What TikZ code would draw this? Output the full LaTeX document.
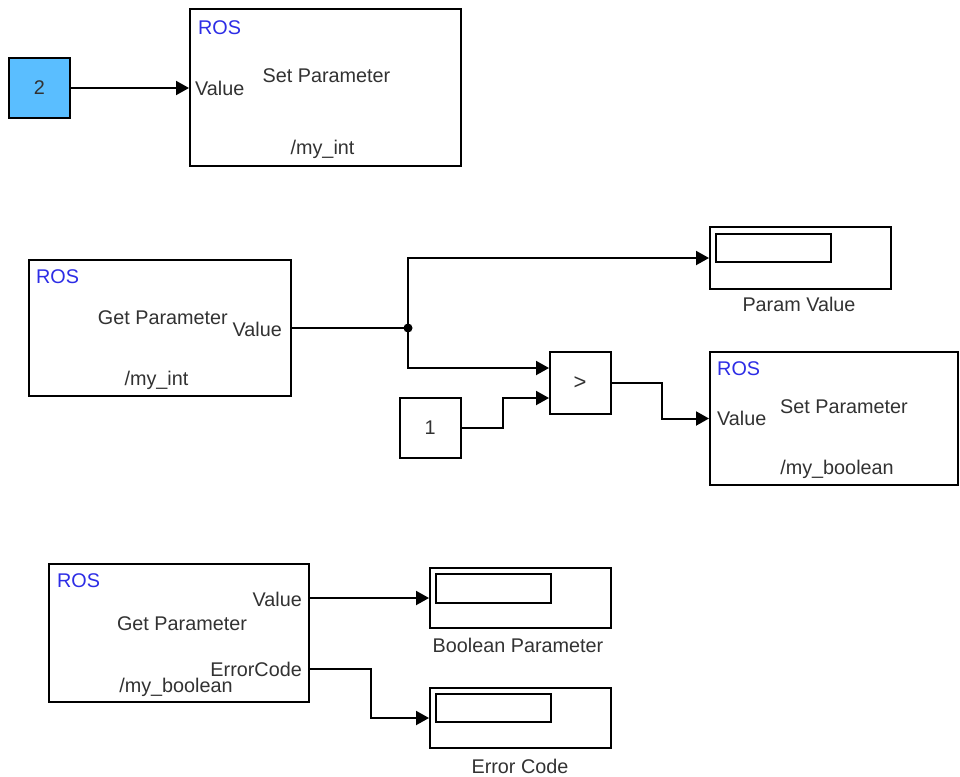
\documentclass[tikz,border=0pt]{standalone}
\usepackage{fontspec}
\setmainfont{Liberation Sans}
\usetikzlibrary{arrows.meta,calc}
\definecolor{txt}{RGB}{50,50,50}
\definecolor{rosblue}{RGB}{45,45,230}
\definecolor{constblue}{RGB}{90,190,255}
\begin{document}
\begin{tikzpicture}[x=1pt,y=-1pt,
  blk/.style={draw=black, line width=2pt, fill=white, inner sep=0pt, rectangle},
  lbl/.style={inner sep=0pt, text=txt, font=\fontsize{19.8}{23}\selectfont},
  rostag/.style={lbl, text=rosblue, anchor=base west},
  wire/.style={line width=2pt, draw=black},
  arr/.style={wire, -{Triangle[length=13pt,width=14pt]}},
]
\useasboundingbox (0,0) rectangle (960,776);

% ---------- blocks ----------
\node[blk, fill=constblue, minimum width=61, minimum height=60] (c2) at (39.5,88) {};
\node[blk, minimum width=271, minimum height=157] (sp1) at (325.5,87.5) {};

\node[blk, minimum width=262, minimum height=136] (gp1) at (160,328) {};
\node[blk, minimum width=181, minimum height=62] (pv) at (800.5,258) {};
\node[blk, minimum width=115, minimum height=28] (pvin) at (773.5,248) {};
\node[blk, minimum width=61, minimum height=62] (cmp) at (580.5,383) {};
\node[blk, minimum width=61, minimum height=60] (one) at (430.5,428) {};
\node[blk, minimum width=248, minimum height=133] (sp2) at (834,418.5) {};

\node[blk, minimum width=260, minimum height=138] (gp2) at (179,633) {};
\node[blk, minimum width=181, minimum height=60] (bp) at (520.5,598) {};
\node[blk, minimum width=115, minimum height=29] (bpin) at (493.5,588.5) {};
\node[blk, minimum width=181, minimum height=60] (ec) at (520.5,718) {};
\node[blk, minimum width=115, minimum height=28] (ecin) at (493.5,708) {};

% ---------- texts ----------
\node[lbl] (t2) at (39.5,88) {2};
\node[rostag] (r1) at (198,35) {ROS};
\node[lbl, anchor=base] (s1) at (326.5,82) {Set Parameter};
\node[lbl, anchor=base west] (v1) at (195,95) {Value};
\node[lbl, anchor=base] (n1) at (322.5,154) {/my\_int};

\node[rostag] (r2) at (36,283) {ROS};
\node[lbl, anchor=base east] (g2) at (228,324) {Get Parameter};
\node[lbl, anchor=base east] (v2) at (282,336) {Value};
\node[lbl, anchor=base] (n2) at (156.5,385) {/my\_int};

\node[lbl, anchor=base] (pvl) at (799,311) {Param Value};
\node[lbl, font=\fontsize{22}{24}\selectfont] (gt) at (580,383) {>};
\node[lbl] (t1) at (430,428) {1};

\node[rostag] (r3) at (717,375) {ROS};
\node[lbl, anchor=base west] (v3) at (717,425) {Value};
\node[lbl, anchor=base] (s3) at (844,413) {Set Parameter};
\node[lbl, anchor=base] (n3) at (837,474) {/my\_boolean};

\node[rostag] (r4) at (57,587) {ROS};
\node[lbl, anchor=base east] (v4) at (302,606) {Value};
\node[lbl, anchor=base] (g4) at (182,630) {Get Parameter};
\node[lbl, anchor=base east] (e4) at (302,676) {ErrorCode};
\node[lbl, anchor=base] (n4) at (176,692) {/my\_boolean};

\node[lbl, anchor=base] (bpl) at (518,652) {Boolean Parameter};
\node[lbl, anchor=base] (ecl) at (520,773) {Error Code};

% ---------- connectors ----------
\coordinate (jn) at (408,328);
\coordinate (cmpin1) at ($(cmp.west)+(0,-15)$);
\coordinate (cmpin2) at ($(cmp.west)+(0,15)$);
\coordinate (gpval) at ($(gp2.east)+(0,-35)$);
\coordinate (gperr) at ($(gp2.east)+(0,36)$);

\draw[arr] (c2.east) -- (c2.east -| sp1.west);
\draw[wire] (gp1.east) -- (jn);
\fill (jn) circle (4.5);
\draw[arr] (jn) |- (pv.west);
\draw[arr] (jn) |- (cmpin1);
\draw[arr] (one.east) -- ++(41,0) |- (cmpin2);
\draw[arr] (cmp.east) -- ++(50,0) |- (sp2.west);
\draw[arr] (gpval) -- (gpval -| bp.west);
\draw[arr] (gperr) -- ++(61,0) |- (ec.west);
\end{tikzpicture}
\end{document}
